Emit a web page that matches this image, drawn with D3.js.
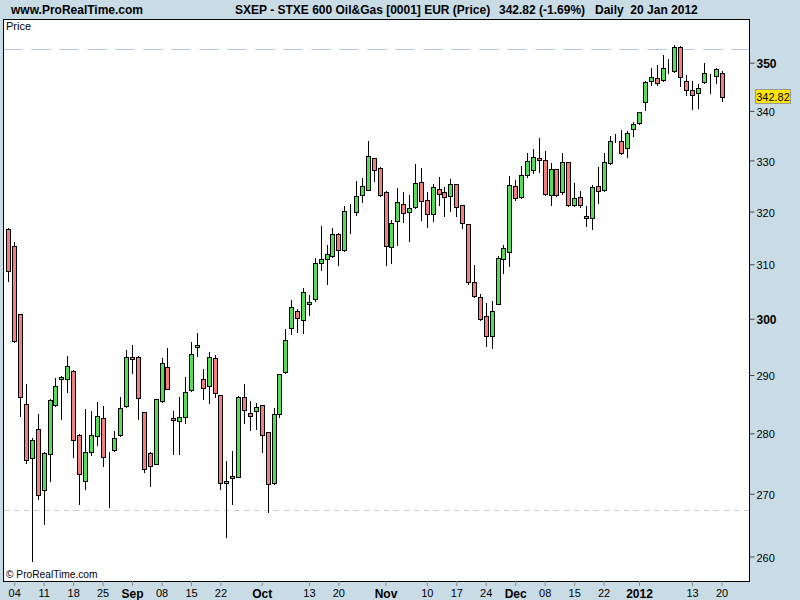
<!DOCTYPE html>
<html><head><meta charset="utf-8">
<script src="https://cdn.jsdelivr.net/npm/d3@7"></script>
<style>
html,body{margin:0;padding:0;background:#c9dce6;}
svg{display:block;font-family:"Liberation Sans",Arial,sans-serif;}
</style></head><body>
<svg id="c" width="800" height="600"></svg>
<script>
// ---- data ----
const startDate = "2011-08-03", endDate = "2012-01-20";
const holidays = ["2011-12-26"];
const openVals = [316.6,313.4,300.8,285.0,275.9,280.7,270.6,276.5,284.8,289.3,
  289.3,290.7,279.8,272.1,276.9,279.5,282.6,275.8,277.2,279.7,
  284.6,293.2,293.2,283.6,276.7,274.9,285.5,291.4,282.6,282.1,
  282.8,287.4,294.9,289.3,288.1,293.0,286.5,271.7,272.9,272.8,
  286.2,283.4,283.8,284.8,280.2,271.7,283.2,290.5,298.4,301.4,
  299.7,302.7,303.5,310.2,310.9,311.5,315.7,312.6,320.2,320.0,
  323.2,324.2,330.4,328.5,323.8,313.2,318.1,321.4,319.9,320.8,
  325.7,322.2,319.5,324.4,323.8,323.0,325.3,321.2,317.6,306.7,
  303.9,300.5,296.9,302.7,310.9,312.3,324.9,322.8,327.1,328.1,
  330.4,330.0,323.2,328.3,323.8,329.6,321.2,322.8,319.1,318.7,
  324.9,324.1,329.4,334.4,333.9,332.5,336.3,337.5,341.8,346.1,
  346.8,346.3,348.5,348.2,353.4,346.1,344.3,343.6,345.9,347.4,
  347.2,347.8];
const highVals = [316.8,314.2,300.9,288.5,279.3,283.3,276.8,285.8,289.5,289.8,
  293.3,290.8,279.9,284.1,283.8,285.3,284.7,276.9,280.4,286.2,
  294.4,295.3,293.3,283.7,276.9,285.9,293.0,294.8,283.8,286.2,
  289.6,295.8,297.4,291.0,294.0,293.5,286.6,275.4,277.0,286.3,
  288.4,285.5,285.2,284.9,280.3,284.3,290.2,298.2,303.4,301.8,
  305.6,304.4,311.1,317.2,313.6,316.8,315.8,321.0,321.4,325.9,
  326.5,333.9,330.5,328.6,323.9,318.4,324.5,323.8,323.2,329.3,
  328.5,323.8,325.3,326.7,324.7,326.3,325.4,321.3,317.7,309.9,
  304.5,302.8,303.2,311.6,313.6,326.9,326.1,328.9,331.5,332.3,
  334.5,331.8,329.4,328.4,331.4,329.7,325.5,324.0,321.0,325.1,
  328.7,331.4,334.9,335.3,336.1,335.9,337.8,339.8,346.1,348.9,
  349.5,351.6,350.8,353.7,353.5,347.4,346.1,345.6,349.9,347.6,
  348.9,348.2];
const lowVals = [306.9,295.9,283.0,275.1,259.3,269.1,265.2,272.0,284.7,282.5,
  287.0,276.0,268.4,270.7,276.4,278.0,274.6,267.9,277.0,279.6,
  284.4,290.3,282.4,273.6,271.2,274.8,285.4,287.5,276.6,276.6,
  281.8,287.3,293.4,285.9,285.2,286.2,270.7,263.1,268.3,272.7,
  281.7,280.5,280.7,276.8,267.1,271.6,282.8,290.3,297.3,297.7,
  297.5,300.6,303.3,309.0,306.4,311.4,309.9,312.5,315.9,319.3,
  321.8,324.1,326.0,323.1,309.9,310.3,313.6,317.9,314.4,320.7,
  318.3,317.0,318.1,321.2,319.1,320.2,319.1,316.8,306.3,304.0,
  299.7,295.2,294.7,302.6,308.3,309.7,322.2,322.7,326.7,327.5,
  327.7,323.3,321.2,323.1,323.4,321.1,321.0,320.8,317.2,316.6,
  321.6,324.0,329.3,333.7,331.3,330.6,334.9,337.3,340.1,345.3,
  345.3,346.1,347.8,348.1,345.1,343.2,340.3,340.5,345.8,343.6,
  345.7,342.0];
const closeVals = [308.8,296.0,286.2,275.6,278.9,269.8,276.7,285.7,288.1,289.7,
  291.6,278.8,273.2,276.9,279.7,282.9,276.0,275.8,279.2,284.3,
  293.2,292.8,286.0,274.0,274.5,285.8,292.1,287.6,282.2,282.8,
  287.0,293.7,295.3,287.7,293.2,286.9,271.7,272.1,272.6,286.2,
  283.9,283.0,284.5,279.8,271.6,283.3,290.1,296.2,302.1,300.1,
  304.9,303.0,310.2,310.9,311.9,315.7,312.6,320.2,320.2,323.0,
  324.9,330.8,328.1,323.2,313.4,317.8,321.8,319.7,320.6,325.5,
  322.0,319.5,324.7,323.4,322.8,325.3,320.8,317.8,306.7,304.1,
  299.9,296.9,301.4,311.1,313.0,325.1,322.6,327.1,329.8,330.6,
  330.0,323.4,328.3,323.2,329.6,321.2,322.6,321.2,318.7,324.7,
  324.0,329.6,333.9,334.4,331.4,335.5,337.3,339.7,345.9,347.0,
  345.7,348.8,348.5,353.4,347.0,344.3,343.2,344.7,347.8,347.4,
  348.71,342.82];
const yTicks = [260,270,280,290,300,310,320,330,340,350];
const yBoldTicks = [300,350];
const xTickDates = ["2011-08-04","2011-08-11","2011-08-18","2011-08-25","2011-09-01","2011-09-08",
  "2011-09-15","2011-09-22","2011-10-03","2011-10-13","2011-10-20","2011-11-01","2011-11-10",
  "2011-11-17","2011-11-24","2011-12-01","2011-12-08","2011-12-15","2011-12-22","2012-01-02",
  "2012-01-13","2012-01-20"];
const xTickLabels = ["04","11","18","25","Sep","08","15","22","Oct","13","20","Nov","10",
  "17","24","Dec","08","15","22","2012","13","20"];
const xBoldLabels = ["Sep","Oct","Nov","Dec","2012"];
const lastPrice = 342.82;
const refHigh = 352.8, refLow = 267.4;
const titleLeft = "www.ProRealTime.com";
const titleMain = "SXEP - STXE 600 Oil&Gas [0001] EUR (Price)";
const titlePrice = "342.82 (-1.69%)";
const titleDate = "Daily  20 Jan 2012";

// ---- build ----
const fmt = d3.utcFormat("%Y-%m-%d");
const dates = d3.utcDay.range(new Date(startDate+"T00:00:00Z"), new Date(endDate+"T00:00:01Z"))
  .filter(d => d.getUTCDay() !== 0 && d.getUTCDay() !== 6)
  .map(fmt).filter(s => !holidays.includes(s));
const bars = dates.map((d,i) => ({date:d, o:openVals[i], h:highVals[i], l:lowVals[i], c:closeVals[i]}));

const svg = d3.select("#c");
const P = {l:3.5, t:19.5, r:749.5, b:581.5};

svg.append("rect").attr("width",800).attr("height",600).attr("fill","#c9dce6");
svg.append("rect").attr("x",P.l).attr("y",P.t).attr("width",P.r-P.l).attr("height",P.b-P.t)
  .attr("fill","#fff");

const x = d3.scalePoint().domain(dates).range([8.3, 721.5]);
const y = d3.scaleLog().domain([260,350]).range([556.44, 62.7]);

svg.append("clipPath").attr("id","clip").append("rect")
  .attr("x",P.l).attr("y",P.t).attr("width",P.r-P.l).attr("height",P.b-P.t);
const g = svg.append("g").attr("clip-path","url(#clip)");

// reference lines
g.append("line").attr("x1",P.l).attr("x2",P.r)
  .attr("y1",Math.round(y(refHigh))+0.5).attr("y2",Math.round(y(refHigh))+0.5)
  .attr("stroke","#b4c4ee").attr("stroke-dasharray","19,9");
g.append("line").attr("x1",P.l).attr("x2",P.r)
  .attr("y1",Math.round(y(refLow))+0.5).attr("y2",Math.round(y(refLow))+0.5)
  .attr("stroke","#cccccc").attr("stroke-dasharray","6,4");

const cg = g.selectAll("g.bar").data(bars).join("g").attr("class","bar");
cg.append("line")
  .attr("x1",d=>Math.round(x(d.date))+0.5).attr("x2",d=>Math.round(x(d.date))+0.5)
  .attr("y1",d=>Math.round(y(d.h))).attr("y2",d=>Math.round(y(d.l))+1)
  .attr("stroke","#000").attr("stroke-width",1);
cg.append("rect")
  .attr("x",d=>Math.round(x(d.date))-1.5)
  .attr("y",d=>Math.round(y(Math.max(d.o,d.c)))+0.5)
  .attr("width",4)
  .attr("height",d=>Math.max(0,Math.round(y(Math.min(d.o,d.c)))-Math.round(y(Math.max(d.o,d.c)))))
  .attr("fill",d=>d.c>d.o?"#55dd55":(d.c<d.o?"#f08080":"#000"))
  .attr("stroke","#000").attr("stroke-width",1);

// frame
svg.append("rect").attr("x",P.l).attr("y",P.t).attr("width",P.r-P.l).attr("height",P.b-P.t)
  .attr("fill","none").attr("stroke","#000");

// y axis
const ya = svg.append("g").attr("transform",`translate(${P.r},0)`)
  .call(d3.axisRight(y).tickValues(yTicks).tickSize(5).tickPadding(2).tickFormat(d3.format("d")));
ya.select(".domain").remove();
ya.selectAll(".tick line").attr("stroke","#444");
ya.selectAll(".tick text").attr("fill","#000")
  .attr("font-family","'Liberation Sans',Arial,sans-serif")
  .attr("font-size",d=>yBoldTicks.includes(d)?12:11)
  .attr("font-weight",d=>yBoldTicks.includes(d)?"bold":"normal")
  .attr("dy","0.42em");

// x axis
const xa = svg.append("g").attr("transform",`translate(0,${P.b-0.5})`)
  .call(d3.axisBottom(x).tickValues(xTickDates).tickSize(5).tickPadding(3)
    .tickFormat((d,i)=>xTickLabels[i]));
xa.select(".domain").remove();
xa.selectAll(".tick line").attr("stroke","#888");
xa.selectAll(".tick text").attr("fill","#000")
  .attr("font-family","'Liberation Sans',Arial,sans-serif")
  .attr("font-size",function(){return xBoldLabels.includes(this.textContent)?12:11;})
  .attr("font-weight",function(){return xBoldLabels.includes(this.textContent)?"bold":"normal";});

// last price tag
const ly = y(lastPrice);
svg.append("rect").attr("x",755.5).attr("y",Math.round(ly)-7.5).attr("width",35).attr("height",14)
  .attr("fill","#ffe600").attr("stroke","#999");
svg.append("text").attr("x",773).attr("y",Math.round(ly)+4).attr("text-anchor","middle")
  .attr("font-size",11).attr("fill","#000").text(lastPrice.toFixed(2));

// header
const hdr = svg.append("g").attr("font-weight","bold").attr("font-size",12).attr("fill","#000");
hdr.append("text").attr("x",11).attr("y",14).text(titleLeft);
hdr.append("text").attr("x",235).attr("y",14).text(titleMain);
hdr.append("text").attr("x",499).attr("y",14).text(titlePrice);
hdr.append("text").attr("x",595).attr("y",14).attr("xml:space","preserve").style("white-space","pre").text(titleDate);

svg.append("text").attr("x",6).attr("y",30).attr("font-size",11).text("Price");
svg.append("text").attr("x",6).attr("y",578).attr("font-size",10.2).text("\u00A9 ProRealTime.com");
</script>
</body></html>
